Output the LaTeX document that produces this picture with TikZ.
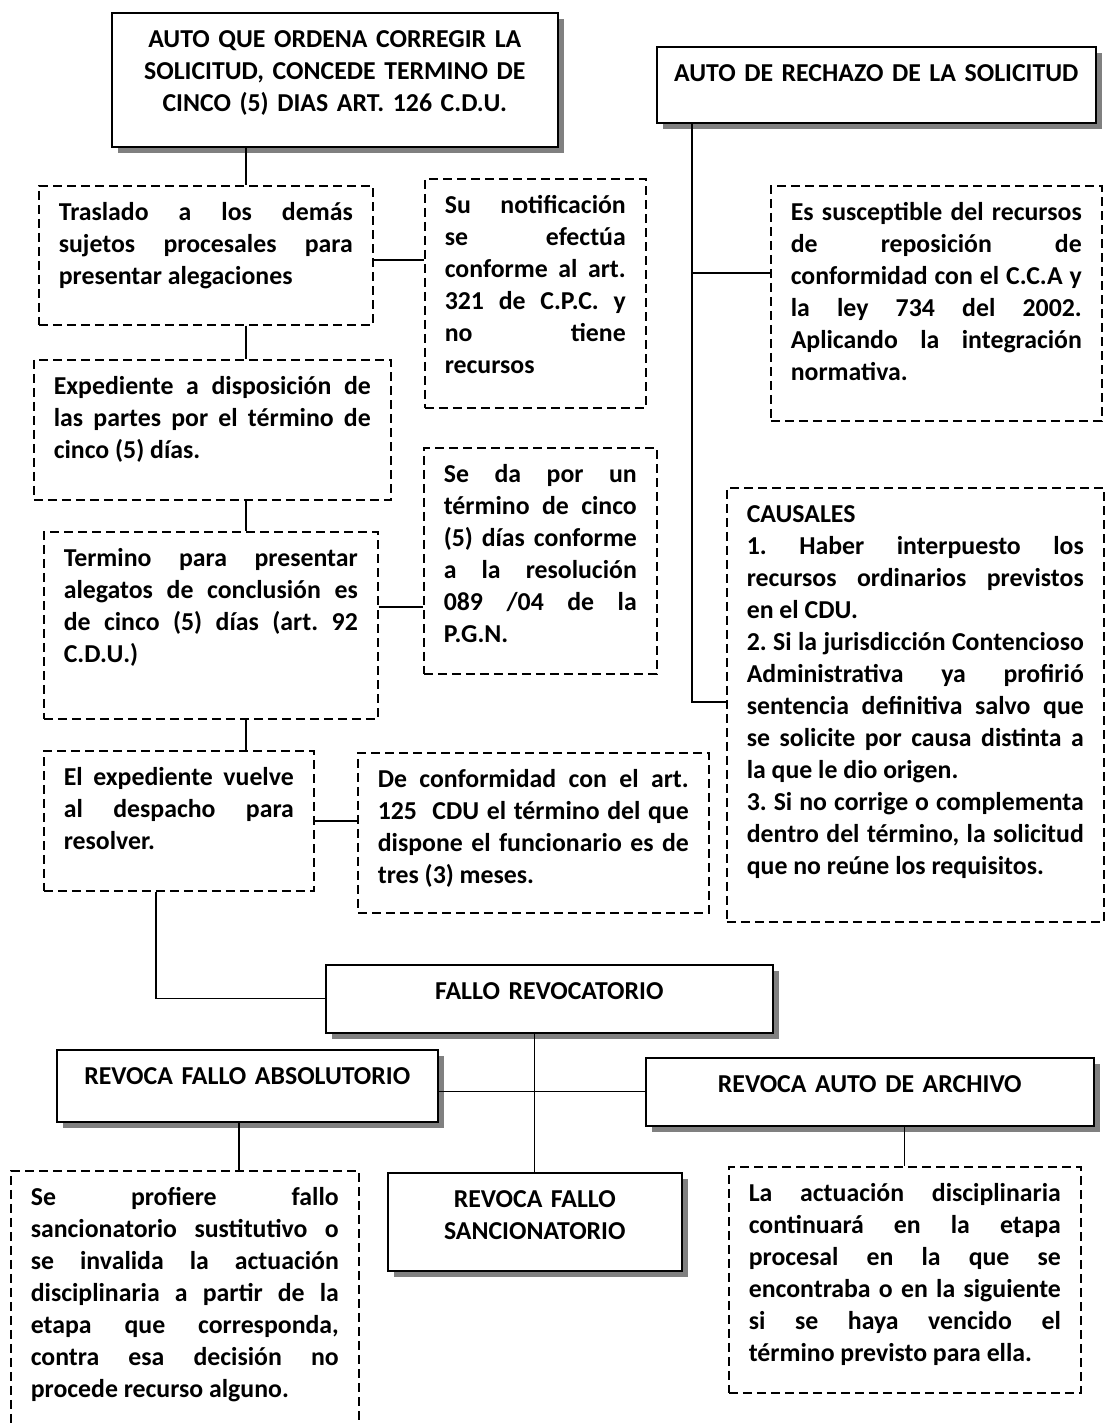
\documentclass[tikz,border=0pt]{standalone}
\usepackage{fontspec}
\setmainfont{Carlito}
\usetikzlibrary{shadows}

\tikzset{
  texto/.style={anchor=north west, inner xsep=10pt, inner ysep=0pt, text height=17.5pt,
    font=\bfseries\fontsize{12.9}{16}\selectfont\frenchspacing},
  caja/.style={texto, draw, line width=0.8pt, fill=white, align=center,
    drop shadow={shadow xshift=3pt, shadow yshift=-3pt, fill=black!50, opacity=1}},
  punteada/.style={texto, draw, line width=0.8pt, dash pattern=on 4.5pt off 2.5pt, align=justify},
  enlace/.style={line width=0.6pt}
}

\begin{document}
\begin{tikzpicture}[x=0.5pt,y=-0.5pt]
        \useasboundingbox (0,0) rectangle (1104,1425);

        % Autos iniciales
        \node[caja, text width=203pt, text depth=49.5pt] (correccion) at (111,12)
            {AUTO QUE ORDENA CORREGIR LA\\SOLICITUD, CONCEDE TERMINO DE\\CINCO (5) DIAS ART. 126 C.D.U.};
        \node[caja, inner xsep=4pt, text width=211.5pt, text depth=20.5pt] (rechazo) at (656,46)
            {AUTO DE RECHAZO DE LA SOLICITUD};

        % Columna izquierda
        \node[punteada, text width=147pt, text depth=52pt] (traslado) at (38,185)
            {Traslado a los demás\linebreak sujetos procesales para\linebreak presentar alegaciones};
        \node[punteada, text width=90.5pt, text depth=97pt] (notificacion) at (424,178)
            {Su notificación\linebreak se efectúa\linebreak conforme al art.\linebreak 321 de C.P.C. y\linebreak no tiene\linebreak recursos};
        \node[punteada, text width=158.5pt, text depth=52.5pt] (expediente) at (33,359)
            {Expediente a disposición de\linebreak las partes por el término de\linebreak cinco (5) días.};
        \node[punteada, text width=147pt, text depth=76pt] (alegatos) at (43,531)
            {Termino para presentar\linebreak alegatos de conclusión es\linebreak de cinco (5) días (art. 92\linebreak C.D.U.)};
        \node[punteada, text width=96.5pt, text depth=95.5pt] (resolucion) at (423,447)
            {Se da por un\linebreak término de cinco\linebreak (5) días conforme\linebreak a la resolución\linebreak 089 /04 de la\linebreak P.G.N.};
        \node[punteada, text width=115pt, text depth=52.5pt] (despacho) at (43,750)
            {El expediente vuelve\linebreak al despacho para\linebreak resolver.};
        \node[punteada, text width=155.5pt, text depth=62.5pt] (termino) at (357,752)
            {De conformidad con el art.\linebreak 125\ \ CDU el término del que\linebreak dispone el funcionario es de\linebreak tres (3) meses.};

        % Columna derecha
        \node[punteada, text width=145.5pt, text depth=100pt] (susceptible) at (770,185)
            {Es susceptible del recursos\linebreak de reposición de\linebreak conformidad con el C.C.A y\linebreak la ley 734 del 2002.\linebreak Aplicando la integración\linebreak normativa.};
        \node[punteada, text width=168.5pt, text depth=199.5pt] (causales) at (726,487)
            {CAUSALES\\1. Haber interpuesto los\linebreak recursos ordinarios previstos\linebreak en el CDU.\\2. Si la jurisdicción Contencioso\linebreak Administrativa ya profirió\linebreak sentencia definitiva salvo que\linebreak se solicite por causa distinta a\linebreak la que le dio origen.\\3. Si no corrige o complementa\linebreak dentro del término, la solicitud\linebreak que no reúne los requisitos.};

        % Fallo revocatorio
        \node[caja, text width=203.5pt, text depth=16.5pt] (fallo) at (325,964) {FALLO REVOCATORIO};
        \node[caja, text width=170.5pt, text depth=18.5pt] (absolutorio) at (56,1049) {REVOCA FALLO ABSOLUTORIO};
        \node[caja, text width=204pt, text depth=16.5pt] (archivo) at (645,1057) {REVOCA AUTO DE ARCHIVO};
        \node[caja, text width=127pt, text depth=31.5pt] (sancionatorio) at (387,1172) {REVOCA FALLO\\SANCIONATORIO};
        \node[punteada, text width=154pt, text depth=115pt] (sustitutivo) at (10,1170)
            {Se profiere fallo\linebreak sancionatorio sustitutivo o\linebreak se invalida la actuación\linebreak disciplinaria a partir de la\linebreak etapa que corresponda,\linebreak contra esa decisión no\linebreak procede recurso alguno.};
        \node[punteada, text width=156pt, text depth=95.5pt] (continuara) at (728,1166)
            {La actuación disciplinaria\linebreak continuará en la etapa\linebreak procesal en la que se\linebreak encontraba o en la siguiente\linebreak si se haya vencido el\linebreak término previsto para ella.};

        % Conectores
        \coordinate (ejeizq) at (246,0);
        \coordinate (ejeder) at (692,0);
        \draw[enlace] (ejeizq |- correccion.south) -- (ejeizq |- traslado.north);
        \draw[enlace] (ejeizq |- traslado.south) -- (ejeizq |- expediente.north);
        \draw[enlace] (ejeizq |- expediente.south) -- (ejeizq |- alegatos.north);
        \draw[enlace] (ejeizq |- alegatos.south) -- (ejeizq |- despacho.north);
        \draw[enlace] (traslado.east |- 0,260) -- (notificacion.west |- 0,260);
        \draw[enlace] (alegatos.east |- 0,607) -- (resolucion.west |- 0,607);
        \draw[enlace] (despacho.east |- 0,821) -- (termino.west |- 0,821);
        \draw[enlace] (ejeder |- rechazo.south) |- (causales.west |- 0,702);
        \draw[enlace] (ejeder |- 0,273) -- (susceptible.west |- 0,273);
        \draw[enlace] (despacho.south -| 156,0) |- (fallo.west);
        \draw[enlace] (fallo.south -| sancionatorio.north) -- (sancionatorio.north);
        \draw[enlace] (absolutorio.east |- archivo.west) -- (archivo.west);
        \draw[enlace] (absolutorio.south -| 239,0) -- (sustitutivo.north -| 239,0);
        \draw[enlace] (archivo.south -| continuara.north) -- (continuara.north);
    \end{tikzpicture}
\end{document}
